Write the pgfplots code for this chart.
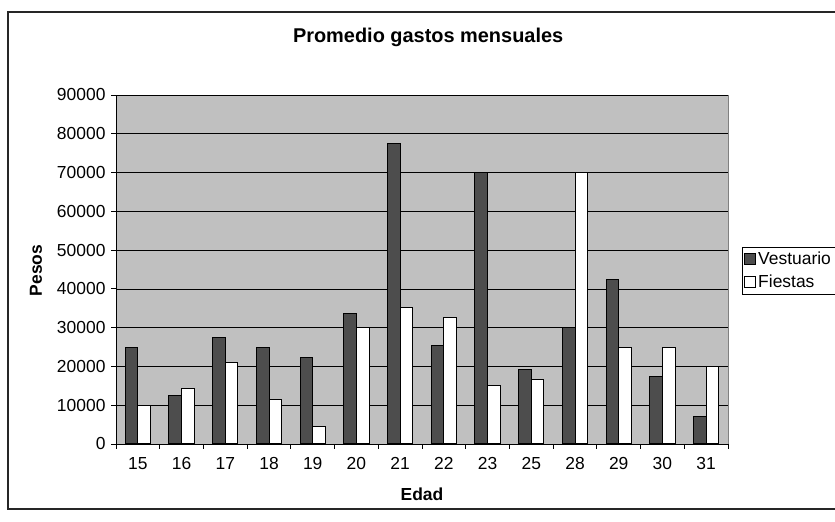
\documentclass[border=0pt]{standalone}
\usepackage{fontspec}
\setmainfont{Liberation Sans}
\usepackage{pgfplots}
\pgfplotsset{compat=1.18}
\definecolor{darkbar}{RGB}{77,77,77}
\definecolor{plotbg}{RGB}{192,192,192}
\definecolor{frameg}{RGB}{128,128,128}
\begin{document}
\begin{tikzpicture}[x=1bp,y=1bp]
\useasboundingbox (0,0) rectangle (835,522);
\fill[white] (0,0) rectangle (835,522);
\draw[line width=1.3bp, black!85] (8,13) rectangle (860,510);
\begin{axis}[
  at={(116bp,78bp)}, anchor=south west,
  scale only axis, width=612bp, height=349bp,
  ymin=0, ymax=90000, ytick={0,10000,...,90000},
  scaled y ticks=false,
  xmin=-0.5, xmax=13.5,
  xtick={-0.5,0.5,...,13.5},
  x tick label as interval,
  xticklabels={15,16,17,18,19,20,21,22,23,25,28,29,30,31},
  xticklabel style={yshift=-5bp},
  yticklabel style={xshift=-2bp},
  axis lines=left, axis line style={-, black, line width=0.9bp},
  axis background/.style={fill=plotbg, draw=frameg, line width=0.9bp},
  tick align=outside, major tick length=5bp,
  tick style={black, line width=0.8bp},
  ymajorgrids, major grid style={black, line width=0.7bp},
  /pgf/number format/assume math mode=true,
  /pgf/number format/1000 sep={},
  ticklabel style={font=\fontsize{17.5}{19}\selectfont},
  title={\textbf{Promedio gastos mensuales}},
  title style={font=\fontsize{20}{22}\selectfont, at={(axis description cs:0.51,1.149)}, anchor=center},
  xlabel={\textbf{Edad}},
  xlabel style={font=\fontsize{17.5}{19}\selectfont, at={(axis description cs:0.5,-0.143)}, anchor=center},
  ylabel={\textbf{Pesos}},
  ylabel style={font=\fontsize{17.5}{19}\selectfont, at={(axis description cs:-0.1307,0.497)}, anchor=center},
  legend style={at={(1.0229,0.497)}, anchor=west, draw=black, line width=0.8bp,
    font=\fontsize{17.5}{19}\selectfont, inner xsep=2bp, inner ysep=3bp, row sep=5bp,
    /tikz/every even column/.append style={column sep=2bp}},
  legend cell align=left,
  ybar=0pt, bar width=12.6bp,
]
\addplot[fill=darkbar, draw=black, line width=1bp,
  legend image code/.code={\draw[fill=darkbar, draw=black, line width=0.8bp] (0bp,-5.5bp) rectangle (11bp,5.5bp);}]
  coordinates {(0,25000) (1,12500) (2,27400) (3,25000) (4,22400) (5,33600) (6,77600) (7,25500) (8,70000) (9,19300) (10,30000) (11,42400) (12,17500) (13,7000)};
\addplot[fill=white, draw=black, line width=1bp,
  legend image code/.code={\draw[fill=white, draw=black, line width=0.8bp] (0bp,-5.5bp) rectangle (11bp,5.5bp);}]
  coordinates {(0,10000) (1,14200) (2,20900) (3,11500) (4,4400) (5,30000) (6,35300) (7,32500) (8,15000) (9,16600) (10,70000) (11,25000) (12,25000) (13,20000)};
\legend{Vestuario,Fiestas}
\end{axis}
\end{tikzpicture}
\end{document}
